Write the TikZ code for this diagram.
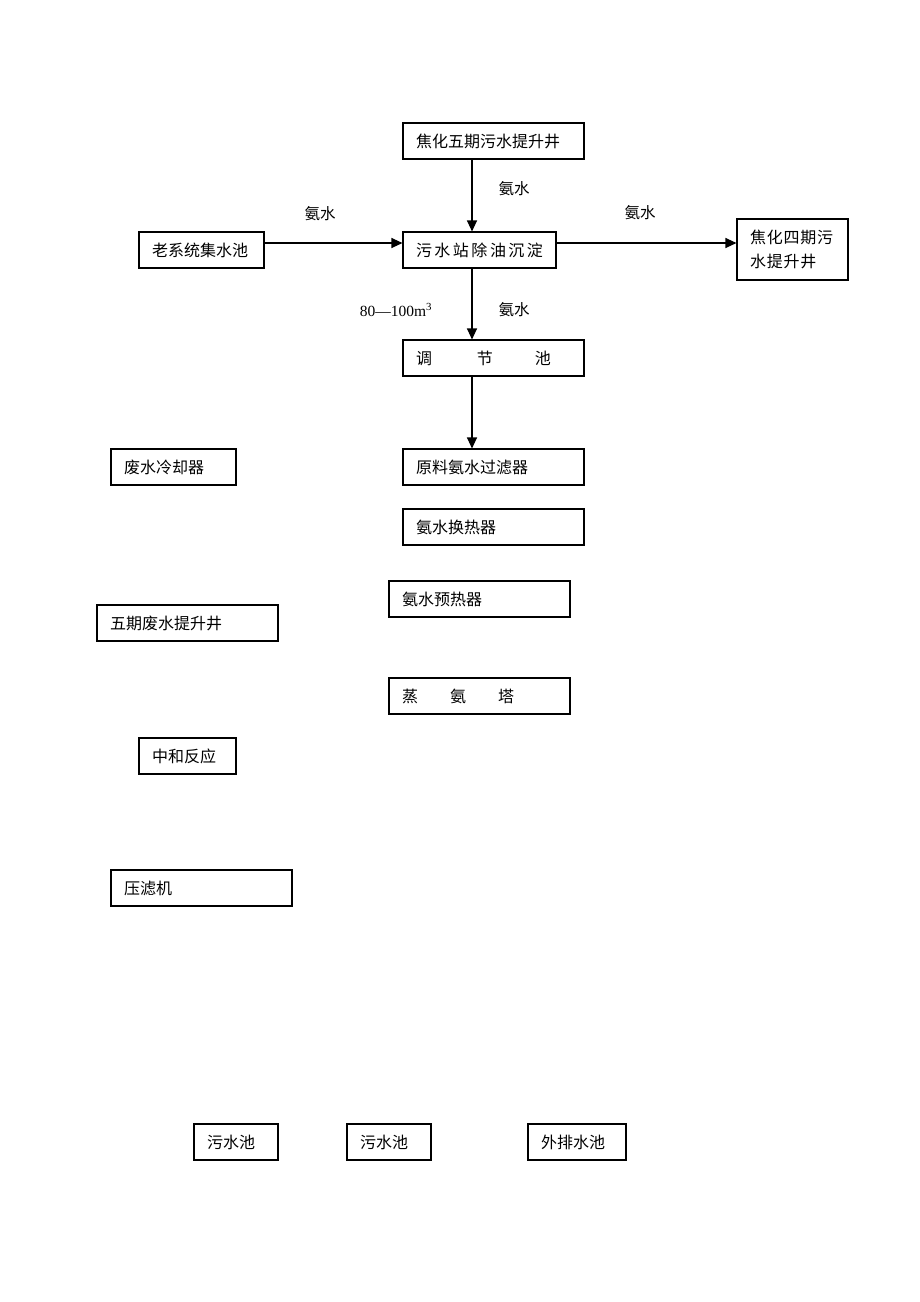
\documentclass[tikz,border=0pt]{standalone}
\usepackage{fontspec}
\newfontfamily\cjk{Noto Sans CJK SC}
\newfontfamily\serifnum{Liberation Serif}
\usetikzlibrary{arrows.meta}
\begin{document}
\begin{tikzpicture}[x=1pt,y=-1pt,
  box/.style={draw=black,line width=1.1pt,rectangle,inner xsep=12pt,inner ysep=0pt,
    minimum height=36pt,align=left,font=\cjk\fontsize{16}{24}\selectfont,anchor=center},
  lbl/.style={inner sep=0pt,font=\cjk\fontsize{15.5}{18}\selectfont},
  arr/.style={line width=1.1pt,-{Triangle[length=11pt,width=10pt]}}]
\useasboundingbox[fill=white] (0,0) rectangle (920,1302);
% nodes
\node[box,minimum width=181pt,text width=155pt] (n1) at (493.5,141) {焦化五期污水提升井};
\node[box,minimum width=125pt,text width=99pt] (n2) at (201.5,250) {老系统集水池};
\node[box,minimum width=153pt,text width=127pt] (n3) at (479.5,250) {污\kern2.5pt 水\kern2.5pt 站\kern2.5pt 除\kern2.5pt 油\kern2.5pt 沉\kern2.5pt 淀};
\node[box,minimum width=111pt,minimum height=61pt,text width=85pt] (n4) at (792.5,249.5) {焦\kern0.8pt 化\kern0.8pt 四\kern0.8pt 期\kern0.8pt 污\\水\kern0.8pt 提\kern0.8pt 升\kern0.8pt 井};
\node[box,minimum width=181pt,text width=155pt] (n5) at (493.5,358) {调\hspace{45pt}节\hspace{42pt}池};
\node[box,minimum width=181pt,text width=155pt] (n6) at (493.5,467) {原料氨水过滤器};
\node[box,minimum width=181pt,text width=155pt] (n7) at (493.5,527) {氨水换热器};
\node[box,minimum width=181pt,text width=155pt] (n8) at (479.5,599) {氨水预热器};
\node[box,minimum width=181pt,text width=155pt] (n9) at (187.5,623) {五期废水提升井};
\node[box,minimum width=181pt,text width=155pt] (n10) at (479.5,696) {蒸\hspace{32pt}氨\hspace{32pt}塔};
\node[box,minimum width=125pt,text width=99pt] (n11) at (173.5,467) {废水冷却器};
\node[box,minimum width=97pt,text width=71pt] (n12) at (187.5,756) {中和反应};
\node[box,minimum width=181pt,text width=155pt] (n13) at (201.5,888) {压滤机};
\node[box,minimum width=84pt,text width=58pt] (n14) at (236,1142) {污水池};
\node[box,minimum width=84pt,text width=58pt] (n15) at (389,1142) {污水池};
\node[box,minimum width=98pt,text width=72pt] (n16) at (577,1142) {外排水池};
% helper coordinates
\coordinate (ax) at (472,0);
\coordinate (ay) at (0,243);
% arrows
\draw[arr] (n1.south -| ax) -- (n3.north -| ax);
\draw[arr] (n3.south -| ax) -- (n5.north -| ax);
\draw[arr] (n5.south -| ax) -- (n6.north -| ax);
\draw[arr] (n2.east |- ay) -- (n3.west |- ay);
\draw[arr] (n3.east |- ay) -- (n4.west |- ay);
% labels
\node[lbl] (l1) at (514,189) {氨水};
\node[lbl] (l2) at (320,214) {氨水};
\node[lbl] (l3) at (640,213) {氨水};
\node[lbl] (l4) at (514,310) {氨水};
\node[inner sep=0pt,font=\serifnum\fontsize{15.5}{18}\selectfont] (l5) at (396,310) {80—100m\textsuperscript{3}};
\end{tikzpicture}
\end{document}
